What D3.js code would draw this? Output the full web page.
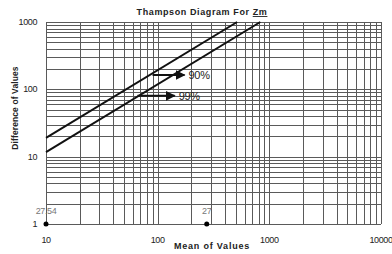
<!DOCTYPE html>
<html>
<head>
<meta charset="utf-8">
<script src="https://cdn.jsdelivr.net/npm/d3@7"></script>
<style>
  body { margin: 0; background: #fff; }
  text { font-family: "Liberation Sans", Arial, sans-serif; }
</style>
</head>
<body>
<div id="chart"></div>
<script>
// values
const xTicks = [10, 100, 1000, 10000];
const yTicks = [1, 10, 100, 1000];
const line90 = [[10, 19], [515, 1000]];
const line99 = [[10, 11.7], [830, 1000]];
const arrows = [
  { label: '90%', from: 90, to: 174, y: 163 },
  { label: '99%', from: 66, to: 142, y: 80 }
];
const points = [
  { x: 10, y: 1, label: '27.54' },
  { x: 275, y: 1, label: '27' }
];

const W = 392, H = 254;
const margin = { top: 22, right: 11, bottom: 30, left: 46 };

const svg = d3.select('#chart').append('svg')
  .attr('width', W).attr('height', H);

const x = d3.scaleLog().domain([10, 10000]).range([margin.left, W - margin.right]);
const y = d3.scaleLog().domain([1, 1000]).range([H - margin.bottom, margin.top]);

// minor + major grid (1..9 per decade)
function logGrid(lo, hi) {
  const out = [];
  for (let d = lo; d < hi; d *= 10) {
    for (let k = 1; k < 10; k++) out.push(d * k);
  }
  out.push(hi);
  return out;
}

const grid = svg.append('g').attr('stroke', '#5a5a5a').attr('stroke-width', 1);
grid.selectAll('.vx').data(logGrid(10, 10000)).enter().append('line')
  .attr('x1', d => Math.round(x(d)) + 0.5).attr('x2', d => Math.round(x(d)) + 0.5)
  .attr('y1', y(1000)).attr('y2', y(1));
grid.selectAll('.hy').data(logGrid(1, 1000)).enter().append('line')
  .attr('y1', d => Math.round(y(d)) + 0.5).attr('y2', d => Math.round(y(d)) + 0.5)
  .attr('x1', x(10)).attr('x2', x(10000));

// tick labels
svg.append('g').selectAll('text').data(xTicks).enter().append('text')
  .attr('x', d => x(d)).attr('y', H - 11)
  .attr('text-anchor', 'middle')
  .attr('font-size', 9).attr('letter-spacing', -0.4).attr('fill', '#222')
  .text(d => d);
svg.append('g').selectAll('text').data(yTicks).enter().append('text')
  .attr('x', margin.left - 9).attr('y', d => y(d) + 3)
  .attr('text-anchor', 'end')
  .attr('font-size', 9).attr('letter-spacing', -0.4).attr('fill', '#222')
  .text(d => d);

// lines
const lineGen = d3.line().x(d => x(d[0])).y(d => y(d[1]));
svg.append('g').selectAll('path').data([line90, line99]).enter().append('path')
  .attr('d', lineGen)
  .attr('fill', 'none').attr('stroke', '#111').attr('stroke-width', 2);

// arrows
svg.append('defs').append('marker')
  .attr('id', 'ah').attr('viewBox', '0 0 10 10')
  .attr('refX', 9).attr('refY', 5)
  .attr('markerWidth', 5).attr('markerHeight', 5)
  .attr('orient', 'auto')
  .append('path').attr('d', 'M0,0L10,5L0,10z').attr('fill', '#111');

const ar = svg.append('g');
ar.selectAll('line').data(arrows).enter().append('line')
  .attr('x1', d => x(d.from)).attr('x2', d => x(d.to))
  .attr('y1', d => y(d.y)).attr('y2', d => y(d.y))
  .attr('stroke', '#111').attr('stroke-width', 2)
  .attr('marker-end', 'url(#ah)');
ar.selectAll('text').data(arrows).enter().append('text')
  .attr('x', d => x(d.to) + 4).attr('y', d => y(d.y) + 4)
  .attr('font-size', 11).attr('letter-spacing', -0.3).attr('fill', '#222')
  .text(d => d.label);

// points
svg.append('g').selectAll('circle').data(points).enter().append('circle')
  .attr('cx', d => x(d.x)).attr('cy', d => y(d.y)).attr('r', 2.5).attr('fill', '#000');
svg.append('g').selectAll('text').data(points).enter().append('text')
  .attr('x', d => x(d.x)).attr('y', d => y(d.y) - 10)
  .attr('text-anchor', 'middle')
  .attr('font-size', 9).attr('letter-spacing', -0.4).attr('fill', '#777')
  .text(d => d.label);

// titles
const title = svg.append('text')
  .attr('x', 202).attr('y', 15).attr('text-anchor', 'middle')
  .attr('font-size', 9).attr('font-weight', 'bold').attr('letter-spacing', 0.6)
  .attr('fill', '#222');
title.append('tspan').text('Thampson Diagram For ');
title.append('tspan').attr('text-decoration', 'underline').text('Zm');

svg.append('text')
  .attr('x', 212).attr('y', H - 5).attr('text-anchor', 'middle')
  .attr('font-size', 9).attr('font-weight', 'bold').attr('letter-spacing', 0.8)
  .attr('fill', '#222')
  .text('Mean of Values');

svg.append('text')
  .attr('transform', 'translate(18,108) rotate(-90)')
  .attr('text-anchor', 'middle')
  .attr('font-size', 8.5).attr('font-weight', 'bold').attr('letter-spacing', 0.1)
  .attr('fill', '#222')
  .text('Difference of Values');
</script>
</body>
</html>
